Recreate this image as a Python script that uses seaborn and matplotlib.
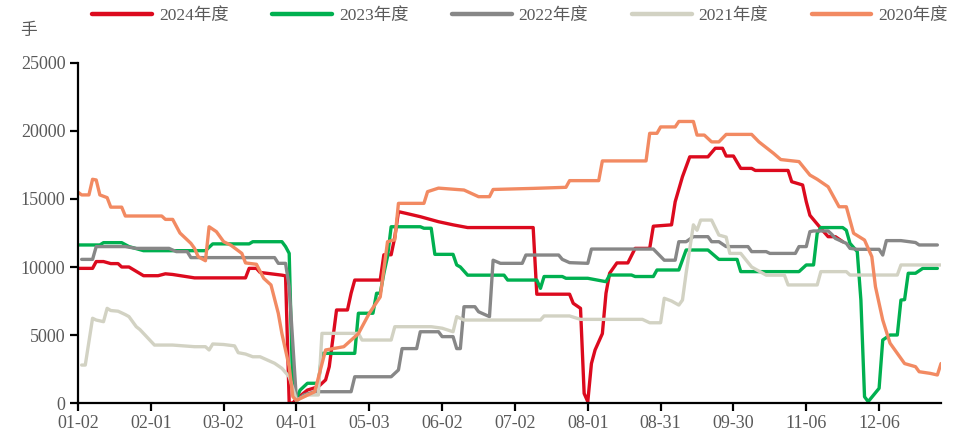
import matplotlib
matplotlib.use("Agg")
import matplotlib.pyplot as plt
import pandas as pd
import seaborn as sns

# trading-day index -> value (手); breakpoints
d2024 = [0, 4, 5, 7, 9, 11, 12, 14, 18, 22, 24, 26, 32, 46, 47, 49, 50, 56, 57, 58, 59, 60, 63, 66, 68, 69,
         71, 74, 75, 76, 83, 84, 86, 87, 88, 90, 94, 99, 103, 107, 125, 126, 135, 136, 138, 139, 140, 141,
         142, 144, 145, 146, 148, 151, 153, 157, 158, 163, 164, 166, 168, 173, 175, 177, 178, 180, 182, 185,
         186, 195, 196, 199, 200, 201, 204, 206, 208, 210]
v2024 = [9900, 9900, 10400, 10400, 10250, 10250, 10000, 10000, 9360, 9360, 9500, 9450, 9200, 9200, 9900,
         9900, 9600, 9400, 9350, 0, 0, 300, 950, 1200, 1700, 2670, 6840, 6840, 8070, 9040, 9040, 10900,
         10900, 12200, 14070, 13950, 13700, 13330, 13100, 12900, 12900, 8000, 8000, 7330, 6960, 700, 100,
         2900, 3900, 5100, 8070, 9540, 10300, 10300, 11370, 11370, 13000, 13100, 14800, 16640, 18100,
         18100, 18730, 18730, 18160, 18160, 17250, 17250, 17100, 17100, 16270, 16030, 14800, 13800, 12840,
         12230, 12230, 11860]

d2023 = [0, 6, 7, 12, 14, 18, 35, 37, 47, 48, 56, 57, 58, 59, 60, 61, 63, 66, 67, 76, 77, 81, 82, 83, 84,
         85, 86, 94, 95, 97, 98, 103, 104, 105, 107, 117, 118, 126, 127, 128, 133, 134, 140, 145, 146, 152,
         153, 158, 159, 165, 167, 173, 176, 181, 182, 198, 200, 202, 203, 204, 210, 211, 212, 214, 215, 216,
         217, 220, 221, 223, 225, 226, 227, 228, 230, 232, 236]
v2023 = [11620, 11620, 11790, 11790, 11500, 11200, 11200, 11700, 11700, 11860, 11860, 11500, 11000, 700,
         340, 950, 1450, 1450, 3650, 3650, 6600, 6600, 8070, 8070, 9540, 10760, 12960, 12960, 12850, 12850,
         10930, 10930, 10150, 10000, 9400, 9400, 9040, 9040, 8430, 9300, 9300, 9170, 9170, 8920, 9410,
         9410, 9300, 9300, 9780, 9780, 11250, 11250, 10560, 10560, 9660, 9660, 10150, 10150, 12480, 12900,
         12900, 12700, 11740, 11130, 7570, 460, 100, 1080, 4630, 5000, 5000, 7570, 7600, 9540, 9540, 9900,
         9900]

d2022 = [1, 4, 5, 13, 16, 25, 27, 30, 31, 54, 55, 57, 58, 60, 62, 65, 75, 76, 86, 88, 89, 93, 94, 99, 100,
         103, 104, 105, 106, 109, 110, 113, 114, 116, 122, 123, 132, 133, 135, 140, 141, 158, 161, 164, 165,
         167, 169, 173, 174, 176, 178, 184, 185, 189, 190, 197, 198, 200, 201, 202, 206, 207, 208, 211, 212,
         214, 220, 221, 222, 226, 230, 231, 236]
v2022 = [10560, 10560, 11500, 11500, 11370, 11370, 11130, 11130, 10690, 10690, 10270, 10270, 8550, 150,
         590, 830, 830, 1930, 1930, 2430, 4000, 4000, 5240, 5240, 4880, 4880, 4000, 4000, 7080, 7080, 6710,
         6350, 10500, 10270, 10270, 10880, 10880, 10560, 10320, 10270, 11320, 11320, 10500, 10500, 11860,
         11860, 12230, 12230, 11860, 11860, 11500, 11500, 11130, 11130, 11000, 11000, 11500, 11500, 12600,
         12650, 12650, 12400, 12100, 11740, 11370, 11300, 11300, 10880, 11940, 11940, 11800, 11620, 11620]

d2021 = [1, 2, 4, 5, 7, 8, 9, 11, 13, 14, 16, 17, 21, 26, 32, 35, 36, 37, 40, 43, 44, 46, 48, 50, 54, 56,
         58, 60, 63, 66, 67, 77, 78, 86, 87, 97, 100, 103, 104, 106, 110, 127, 128, 135, 138, 155, 157, 160,
         161, 163, 165, 166, 167, 169, 170, 171, 174, 176, 178, 179, 182, 185, 189, 194, 195, 203, 204, 211,
         212, 225, 226, 237]
v2021 = [2790, 2790, 6230, 6100, 5980, 6960, 6800, 6750, 6500, 6350, 5610, 5400, 4260, 4260, 4140, 4140,
         3900, 4340, 4300, 4200, 3700, 3600, 3400, 3400, 2920, 2550, 1930, 200, 590, 590, 5120, 5120, 4630,
         4630, 5610, 5610, 5500, 5240, 6350, 6100, 6100, 6100, 6400, 6400, 6150, 6150, 5900, 5900, 7700,
         7500, 7200, 7570, 9540, 13100, 12700, 13450, 13450, 12350, 12200, 11000, 11000, 10000, 9400, 9400,
         8680, 8680, 9660, 9660, 9410, 9410, 10150, 10150]

d2020 = [0, 1, 3, 4, 5, 6, 8, 9, 12, 13, 23, 24, 26, 27, 28, 31, 32, 33, 35, 36, 38, 40, 42, 45, 46, 49, 51,
         53, 55, 56, 58, 59, 60, 65, 68, 73, 77, 80, 83, 85, 87, 88, 95, 96, 99, 106, 110, 113, 114, 125,
         134, 135, 143, 144, 156, 157, 159, 160, 164, 165, 169, 170, 172, 174, 176, 178, 185, 187, 191, 193,
         198, 201, 203, 206, 209, 211, 213, 216, 218, 219, 221, 223, 225, 227, 230, 231, 234, 236, 237]
v2020 = [15500, 15300, 15300, 16450, 16400, 15300, 15100, 14400, 14400, 13750, 13750, 13500, 13500, 13000,
         12500, 11740, 11370, 10760, 10460, 12960, 12600, 11860, 11600, 11000, 10300, 10200, 9170, 8680,
         6600, 5100, 2670, 460, 200, 830, 3900, 4140, 5100, 6600, 7800, 11860, 12000, 14680, 14680, 15540,
         15800, 15660, 15170, 15170, 15700, 15780, 15860, 16350, 16350, 17800, 17800, 19830, 19830, 20300,
         20300, 20700, 20700, 19700, 19700, 19200, 19200, 19750, 19750, 19200, 18360, 17900, 17750, 16760,
         16450, 15900, 14430, 14430, 12480, 11980, 10760, 8550, 6100, 4400, 3650, 2900, 2670, 2300, 2180,
         2060, 2900]

years = ["2024年度", "2023年度", "2022年度", "2021年度", "2020年度"]
colors = ["#DC0A1E", "#00B050", "#878787", "#D2D2C3", "#F28A62"]
tick_pos = [0, 20, 40, 60, 80, 100, 120, 140, 160, 180, 200, 220]
tick_labels = ["01-02", "02-01", "03-02", "04-01", "05-03", "06-02", "07-02", "08-01",
               "08-31", "09-30", "11-06", "12-06"]

series = [(d2024, v2024), (d2023, v2023), (d2022, v2022), (d2021, v2021), (d2020, v2020)]
df = pd.concat([pd.DataFrame({"day": d, "value": v, "year": y})
                for (d, v), y in zip(series, years)], ignore_index=True)

sns.set_style("white")
plt.rcParams["font.family"] = ["Liberation Serif", "Noto Sans CJK SC"]

fig = plt.figure(figsize=(9.56, 4.32), dpi=100)
ax = fig.add_axes([78 / 956, 29 / 432, 863 / 956, 340 / 432])
sns.lineplot(df, x="day", y="value", hue="year", hue_order=years, palette=colors,
             estimator=None, sort=False, lw=2.4, ax=ax, legend=False)

ax.set(xlim=(0, 237), ylim=(0, 25000), xlabel="", ylabel="")
ax.set_xticks(tick_pos, tick_labels)
ax.set_yticks(range(0, 25001, 5000))
for side in ("top", "right"):
    ax.spines[side].set_visible(False)
for side in ("left", "bottom"):
    ax.spines[side].set_color("black")
    ax.spines[side].set_linewidth(1.6)
ax.tick_params(axis="both", direction="out", length=6, width=1.6, color="black",
               labelsize=13, labelcolor="#595959", pad=3, left=True, bottom=True)

handles = [plt.Line2D([], [], color=c, lw=3.2) for c in colors]
fig.legend(handles, years, loc="center", bbox_to_anchor=(0.544, 0.962), ncol=5, frameon=False,
           handlelength=3.45, handletextpad=0.4, columnspacing=2.5,
           prop={"size": 12.5}, labelcolor="#595959")
fig.text(20 / 956, 1 - 31 / 432, "手", fontsize=12, color="#595959", ha="left", va="center")

fig.savefig("out.png", dpi=100)
